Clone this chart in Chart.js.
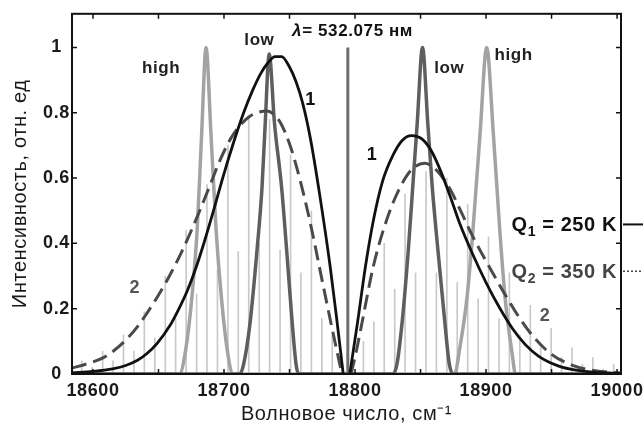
<!DOCTYPE html>
<html>
<head>
<meta charset="utf-8">
<script src="https://cdn.jsdelivr.net/npm/chart.js@4"></script>
<style>
html,body{margin:0;padding:0;background:#fff}
</style>
</head>
<body>
<canvas id="chart" width="643" height="430"></canvas>
<script>
// axis ticks
const xTicks = [18600, 18700, 18800, 18900, 19000];
const xMinor = [18600, 18650, 18700, 18750, 18800, 18850, 18900, 18950, 19000];
const yTicks = [0, 0.2, 0.4, 0.6, 0.8, 1];

// laser line, 532.075 nm
const laser = [[18794.5, 0], [18794.5, 1]];

// curve 1, Q1 = 250 K (solid)
const q1Left = [[18584,0.003],[18600,0.008],[18615,0.016],[18625,0.026],[18634,0.042],[18641,0.062],[18649,0.094],[18659,0.15],[18665,0.195],[18672,0.255],[18679,0.33],[18685,0.405],[18692,0.5],[18699,0.6],[18707,0.705],[18715,0.8],[18722,0.87],[18728,0.92],[18733,0.95],[18739,0.972],[18744,0.972],[18750,0.94],[18755,0.895],[18760,0.83],[18766,0.72],[18773,0.55],[18781,0.33],[18786,0.17],[18791,0]];
const q1Right = [[18796,0],[18799,0.08],[18802,0.16],[18808,0.33],[18814,0.47],[18821,0.59],[18829,0.67],[18836,0.715],[18843,0.73],[18851,0.72],[18858,0.685],[18865,0.625],[18873,0.54],[18880,0.46],[18890,0.365],[18900,0.28],[18910,0.205],[18920,0.14],[18930,0.09],[18940,0.055],[18955,0.025],[18970,0.011],[18985,0.005],[19003,0.002]];

// curve 2, Q2 = 350 K (dashed)
const q2Left = [[18584,0.018],[18596,0.032],[18608,0.05],[18617,0.075],[18626,0.108],[18634,0.145],[18641,0.185],[18649,0.235],[18657,0.29],[18669,0.385],[18682,0.505],[18690,0.585],[18697,0.655],[18705,0.72],[18712,0.76],[18719,0.787],[18725,0.8],[18733,0.805],[18738,0.795],[18743,0.77],[18750,0.705],[18758,0.595],[18766,0.46],[18776,0.265],[18783,0.13],[18790,0]];
const q2Right = [[18797,0],[18801,0.07],[18805,0.15],[18814,0.33],[18824,0.47],[18833,0.56],[18843,0.625],[18853,0.645],[18862,0.625],[18872,0.57],[18880,0.505],[18890,0.42],[18905,0.31],[18915,0.24],[18925,0.175],[18936,0.115],[18950,0.06],[18965,0.028],[18980,0.012],[19003,0.003]];

// filter passbands
const highBand = [[18584,0],[18666,0],[18671,0.08],[18675.5,0.235],[18679.5,0.44],[18683,0.74],[18686.3,1],[18690,0.74],[18694,0.44],[18698,0.235],[18703,0.06],[18707,0],[18876,0],[18880,0.08],[18885.5,0.235],[18890,0.44],[18895.5,0.74],[18900.5,1],[18905.5,0.74],[18910.5,0.44],[18914.5,0.235],[18920,0.06],[18922.5,0],[19003,0]];
const lowBand = [[18584,0],[18712,0],[18715,0.03],[18720,0.16],[18725,0.37],[18729,0.57],[18731.5,0.77],[18734.5,0.98],[18738.5,0.77],[18744,0.57],[18748,0.37],[18752,0.16],[18755,0.03],[18757,0],[18829,0],[18832,0.03],[18836,0.16],[18840.5,0.37],[18844,0.57],[18847.5,0.77],[18851.5,1],[18855.5,0.77],[18859,0.57],[18863.5,0.37],[18868.5,0.16],[18872,0.03],[18875,0],[19003,0]];

// rotational lines
const stokesX = [18782.6,18774.7,18766.7,18758.7,18750.8,18742.8,18734.8,18726.9,18718.9,18710.9,18703.0,18695.0,18687.0,18679.1,18671.1,18663.1,18655.2,18647.2,18639.2,18631.3,18623.3,18615.3,18607.4,18599.4,18591.4];
const stokesH = [0.12,0.17,0.5,0.31,0.67,0.38,0.78,0.4,0.78,0.375,0.7,0.32,0.58,0.245,0.44,0.17,0.3,0.11,0.19,0.07,0.12,0.04,0.07,0.02,0.04];
const antiX = [18806.4,18814.4,18822.3,18830.3,18838.2,18846.2,18854.2,18862.1,18870.1,18878.0,18886.0,18894.0,18901.9,18909.9,18917.8,18925.8,18933.8,18941.7,18949.7,18957.6,18965.6,18973.6,18981.5,18989.5,18997.4];
const antiH = [0.1,0.16,0.4,0.26,0.55,0.31,0.62,0.31,0.6,0.28,0.52,0.23,0.42,0.17,0.31,0.12,0.21,0.08,0.14,0.05,0.08,0.03,0.05,0.015,0.03];

const pts = a => a.map(p => ({x: p[0], y: p[1]}));
const sticks = (xs, hs) => xs.map((x, i) => ({x: x, y: hs[i]}));
const FONT = '"Liberation Sans", Arial, sans-serif';

const line = (data, color, width, order, extra) => Object.assign({
    type: 'line', data: pts(data), borderColor: color, borderWidth: width,
    pointRadius: 0, fill: false, cubicInterpolationMode: 'monotone', order: order
}, extra || {});

const decor = {
    id: 'decor',
    beforeDraw(chart) { chart.ctx.letterSpacing = '0.6px'; },
    afterDatasetsDraw(chart) {
        const {ctx, chartArea: a, scales: {x, y}} = chart;
        ctx.save();
        ctx.strokeStyle = '#111';
        ctx.lineWidth = 2;
        ctx.strokeRect(a.left, a.top, a.right - a.left, a.bottom - a.top);
        ctx.lineWidth = 1.5;
        ctx.beginPath();
        xMinor.forEach(v => {
            const px = x.getPixelForValue(v);
            ctx.moveTo(px, a.top); ctx.lineTo(px, a.top + 5);
            ctx.moveTo(px, a.bottom); ctx.lineTo(px, a.bottom - 5);
        });
        yTicks.forEach(v => {
            const py = y.getPixelForValue(v);
            ctx.moveTo(a.left, py); ctx.lineTo(a.left + 5, py);
            ctx.moveTo(a.right, py); ctx.lineTo(a.right - 5, py);
        });
        ctx.stroke();

        const txt = (s, xv, yv, font, color, align) => {
            ctx.font = font; ctx.fillStyle = color;
            ctx.textAlign = align || 'center'; ctx.textBaseline = 'middle';
            ctx.fillText(s, x.getPixelForValue(xv), y.getPixelForValue(yv));
        };
        const b17 = 'bold 17px ' + FONT, b18 = 'bold 18px ' + FONT;
        txt('high', 18652, 0.936, b17, '#222');
        txt('low', 18727, 1.021, b17, '#222');
        txt('low', 18872, 0.936, b17, '#222');
        txt('high', 18921, 0.976, b17, '#222');
        txt('1', 18766, 0.839, b18, '#111');
        txt('1', 18813, 0.67, b18, '#111');
        txt('2', 18632, 0.264, b18, '#555');
        txt('2', 18945, 0.179, b18, '#555');

        // lambda label
        ctx.textAlign = 'left'; ctx.textBaseline = 'alphabetic'; ctx.fillStyle = '#111';
        let lx = x.getPixelForValue(18752);
        const ly = y.getPixelForValue(1.036);
        ctx.font = 'italic bold 17px ' + FONT;
        ctx.fillText('λ', lx, ly);
        lx += ctx.measureText('λ').width;
        ctx.font = b17;
        ctx.fillText('= 532.075 нм', lx, ly);

        // Q legend
        const q = (sub, rest, yv, color, dash) => {
            const py = y.getPixelForValue(yv);
            ctx.font = 'bold 20px ' + FONT;
            const wQ = ctx.measureText('Q').width, wR = ctx.measureText(rest).width;
            ctx.font = 'bold 14px ' + FONT;
            const wS = ctx.measureText(sub).width;
            let px = a.right - 4 - (wQ + wS + wR);
            ctx.fillStyle = color; ctx.textAlign = 'left'; ctx.textBaseline = 'alphabetic';
            ctx.font = 'bold 20px ' + FONT;
            ctx.fillText('Q', px, py + 7); px += wQ;
            ctx.font = 'bold 14px ' + FONT;
            ctx.fillText(sub, px, py + 12); px += wS;
            ctx.font = 'bold 20px ' + FONT;
            ctx.fillText(rest, px, py + 7);
            ctx.strokeStyle = color; ctx.lineWidth = dash ? 1.5 : 2;
            ctx.setLineDash(dash || []);
            ctx.beginPath(); ctx.moveTo(a.right + 2, py); ctx.lineTo(chart.width, py); ctx.stroke();
            ctx.setLineDash([]);
        };
        q('1', ' = 250 K', 0.458, '#111');
        q('2', ' = 350 K', 0.315, '#444', [2, 2]);
        ctx.restore();
    }
};

new Chart(document.getElementById('chart').getContext('2d'), {
    type: 'line',
    data: {
        datasets: [
            {type: 'bar', data: sticks(stokesX, stokesH), backgroundColor: '#c9c9c9', barThickness: 1, grouped: false, order: 10},
            {type: 'bar', data: sticks(antiX, antiH), backgroundColor: '#c9c9c9', barThickness: 1, grouped: false, order: 10},
            line(highBand, '#a3a3a3', 3.5, 6),
            line(lowBand, '#5e5e5e', 3.5, 5),
            line(laser, '#6e6e6e', 3, 4, {cubicInterpolationMode: 'default', tension: 0}),
            line(q2Left, '#4a4a4a', 3, 2, {borderDash: [15, 7]}),
            line(q2Right, '#4a4a4a', 3, 2, {borderDash: [15, 7]}),
            line(q1Left, '#111', 2.8, 1),
            line(q1Right, '#111', 2.8, 1)
        ]
    },
    options: {
        responsive: false, animation: false, devicePixelRatio: 1,
        layout: {padding: {left: 0, right: 22, top: 10, bottom: 0}},
        plugins: {legend: {display: false}, tooltip: {enabled: false}},
        scales: {
            x: {
                type: 'linear', min: 18584, max: 19003, offset: false,
                grid: {display: false, drawTicks: false}, border: {display: false},
                afterBuildTicks: s => { s.ticks = xTicks.map(v => ({value: v})); },
                afterFit: s => { s.height = 56; s.paddingLeft = 0; s.paddingRight = 0; },
                ticks: {autoSkip: false, maxRotation: 0, padding: 6, color: '#1a1a1a',
                    font: {family: FONT, size: 18, weight: 'bold'}, callback: v => String(v)},
                title: {display: true, text: 'Волновое число, см⁻¹', color: '#1a1a1a',
                    font: {family: FONT, size: 20}, padding: {top: 0, bottom: 4}}
            },
            y: {
                min: 0, max: 1.103,
                grid: {display: false, drawTicks: false}, border: {display: false},
                afterBuildTicks: s => { s.ticks = yTicks.map(v => ({value: v})); },
                afterFit: s => { s.width = 72; },
                ticks: {crossAlign: 'center', padding: 3, color: '#1a1a1a',
                    font: {family: FONT, size: 18, weight: 'bold'}, callback: v => String(v)},
                title: {display: true, text: 'Интенсивность, отн. ед', color: '#1a1a1a',
                    font: {family: FONT, size: 20}, padding: {top: 8, bottom: 0}}
            }
        }
    },
    plugins: [decor]
});
</script>
</body>
</html>
